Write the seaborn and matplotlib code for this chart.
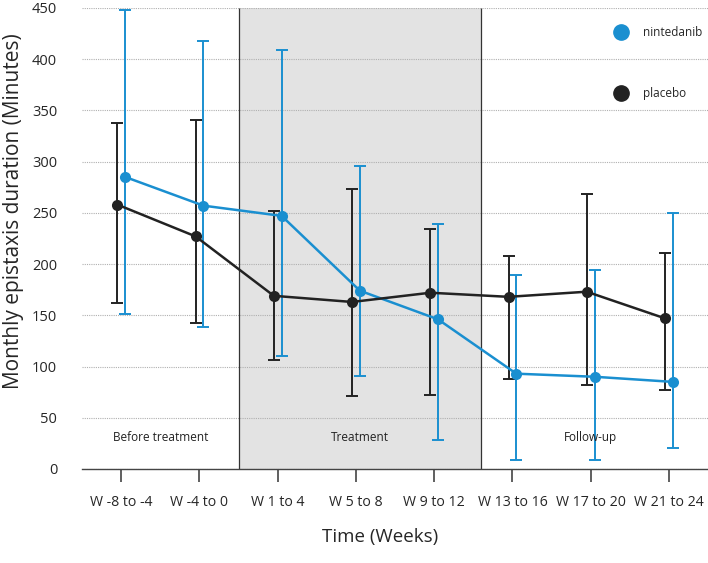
import numpy as np
import pandas as pd
import matplotlib
matplotlib.use("Agg")
import matplotlib.pyplot as plt
from matplotlib.lines import Line2D
import seaborn as sns

# periods on the x axis
periods = ["W -8 to -4", "W -4 to 0", "W 1 to 4", "W 5 to 8", "W 9 to 12",
           "W 13 to 16", "W 17 to 20", "W 21 to 24"]

# nintedanib: mean with lower / upper error bar ends (minutes)
ninte_mean = [285, 257, 247, 174, 146, 93, 90, 85]
ninte_low = [151, 139, 110, 91, 28, 9, 9, 20]
ninte_high = [448, 418, 409, 296, 239, 189, 194, 250]

# placebo
plac_mean = [258, 227, 169, 163, 172, 168, 173, 147]
plac_low = [162, 142, 106, 71, 72, 88, 82, 77]
plac_high = [338, 341, 252, 273, 234, 208, 268, 211]

phase_labels = ["Before treatment", "Treatment", "Follow-up"]

blue = "#1a8fd0"
black = "#222222"

sns.set_style("white")
plt.rcParams["font.family"] = ["Open Sans", "DejaVu Sans"]

fig = plt.figure(figsize=(7.08, 5.63), dpi=100)
ax = fig.add_axes([0.116, 0.167, 0.884, 0.819])

idx = np.arange(len(periods))
df = pd.concat([
    pd.DataFrame({"x": idx + 0.05, "value": ninte_mean, "group": "nintedanib"}),
    pd.DataFrame({"x": idx - 0.05, "value": plac_mean, "group": "placebo"}),
])

# treatment window shading
ax.axvspan(1.5, 4.6, color="#e3e3e3", zorder=0, lw=0)
ax.vlines([1.5, 4.6], 0, 450, color="#333333", lw=0.9, zorder=1)

# error bars
for xs, m, lo, hi, c in [(idx - 0.05, plac_mean, plac_low, plac_high, black),
                         (idx + 0.05, ninte_mean, ninte_low, ninte_high, blue)]:
    m = np.array(m)
    ax.errorbar(xs, m, yerr=[m - np.array(lo), np.array(hi) - m], fmt="none",
                ecolor=c, elinewidth=1.4, capsize=4, capthick=1.4, zorder=3)

sns.lineplot(data=df, x="x", y="value", hue="group",
             palette={"nintedanib": blue, "placebo": black},
             marker="o", markersize=8, markeredgewidth=0, linewidth=1.8,
             legend=False, ax=ax, zorder=4)

ax.set_xlim(-0.5, 7.5)
ax.set_ylim(0, 450)
ax.set_yticks(np.arange(0, 451, 50))
ax.set_xticks(idx)
ax.set_xticklabels(periods)
ax.yaxis.grid(True, color="#b0b0b0", linestyle=(0, (1, 1)), linewidth=0.8)
ax.set_axisbelow(True)

for s in ["top", "right", "left"]:
    ax.spines[s].set_visible(False)
ax.spines["bottom"].set_color("#444444")
ax.spines["bottom"].set_linewidth(1.0)

ax.tick_params(axis="x", direction="out", length=9, width=1.2, color="#444444",
               labelsize=10.2, pad=10, bottom=True)
ax.tick_params(axis="y", length=0, labelsize=10.5, pad=18)

ax.set_xlabel("Time (Weeks)", fontsize=13.5)
ax.xaxis.set_label_coords(0.476, -0.128)
ax.set_ylabel("Monthly epistaxis duration (Minutes)", fontsize=15)
ax.yaxis.set_label_coords(-0.093, 0.56)

for txt, xp in zip(phase_labels, [0.5, 3.05, 6.0]):
    ax.text(xp, 31, txt, ha="center", va="center", fontsize=8.5, color="#222222")

handles = [Line2D([], [], ls="none", marker="o", markersize=11, color=blue),
           Line2D([], [], ls="none", marker="o", markersize=11, color=black)]
ax.legend(handles, ["nintedanib", "placebo"], loc="upper right",
          bbox_to_anchor=(1.008, 0.984), frameon=False, fontsize=8.5,
          labelspacing=4.1, handletextpad=1.4, handlelength=1.0)

fig.savefig("out.png", dpi=100)
